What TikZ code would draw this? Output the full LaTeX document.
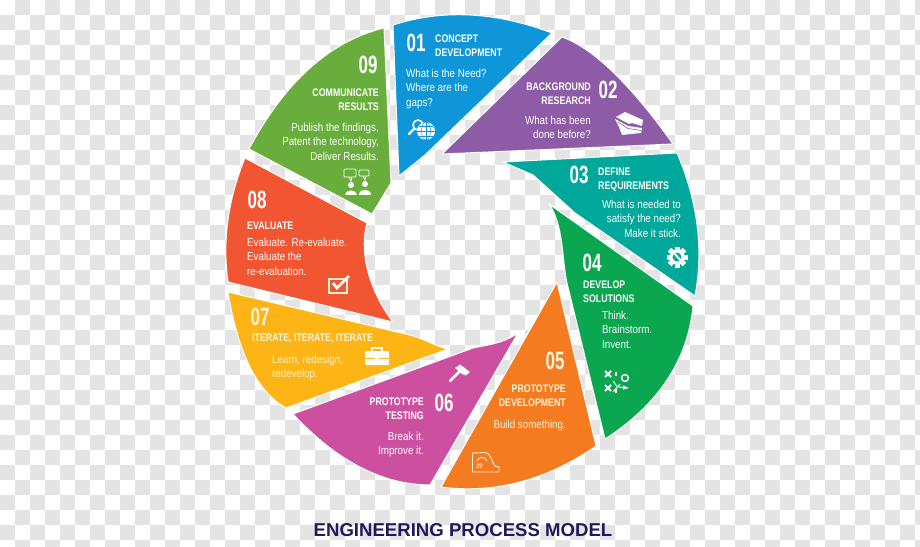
\documentclass[tikz,border=0pt]{standalone}
\usepackage{fontspec}
\setmainfont{Liberation Sans}
\newfontfamily\numfont[FakeStretch=0.68]{Liberation Sans}
\newfontfamily\headfont[FakeStretch=0.8]{Liberation Sans}
\newfontfamily\bodyfont[FakeStretch=0.85]{Liberation Sans}
\definecolor{segblue}{HTML}{0F96D8}
\definecolor{segpurple}{HTML}{8E5BA6}
\definecolor{segteal}{HTML}{00A89C}
\definecolor{seggreen}{HTML}{0BA650}
\definecolor{segorange}{HTML}{F47B20}
\definecolor{segmagenta}{HTML}{CC509F}
\definecolor{segyellow}{HTML}{FDB515}
\definecolor{segred}{HTML}{F15531}
\definecolor{seglime}{HTML}{69AE3C}
\definecolor{cream}{HTML}{FFF3D6}
\definecolor{titlenavy}{HTML}{1F1A5E}
\definecolor{checkgray}{HTML}{E4E4E4}
\tikzset{
    segment/.style={fill=#1,draw=white,line width=1pt,line join=round},
    numtxt/.style={inner sep=0pt,text=white,font=\numfont\bfseries\fontsize{25}{25}\selectfont},
    headtxt/.style={inner sep=0pt,text=white,font=\headfont\bfseries\fontsize{11}{14}\selectfont},
    bodytxt/.style={inner sep=0pt,text=white,font=\bodyfont\fontsize{11.5}{14.3}\selectfont},
}
\begin{document}
\begin{tikzpicture}[x=1pt,y=-1pt]
                \useasboundingbox (0,0) rectangle (920,546);
                \fill[white] (0,0) rectangle (920,546);
                \foreach \j in {0,...,36}{
                \foreach \i in {0,...,61}{
                \pgfmathparse{int(mod(\i+\j,2))}
                \ifnum\pgfmathresult=1
                \fill[checkgray] (15*\i,15*\j) rectangle (15*\i+15,15*\j+15);
                \fi
                }
                }
                \draw[segment=segblue] (393,25) .. controls (442.7,9) and (495.7,11.7) .. (552,33) -- (425,155) -- (399,176) -- cycle;
                \draw[segment=segpurple] (562,37) .. controls (593,48) and (630,83.7) .. (673,144) -- (442,154) -- cycle;
                \draw[segment=segteal] (677,153) .. controls (697.7,201.3) and (703.7,249) .. (695,296) -- (575,213) -- (533,175) -- (503,162) -- cycle;
                \draw[segment=seggreen] (693,306) .. controls (687.7,360.3) and (658.3,404.7) .. (605,439) -- (567,283) .. controls (562,262) and (564,225) .. (549,204) -- cycle;
                \draw[segment=segorange] (596,446) .. controls (546.3,480.3) and (494.7,494) .. (441,487) -- (557,282) -- cycle;
                \draw[segment=segmagenta] (430,485) .. controls (382.3,484.7) and (336.7,461) .. (293,414) -- (473,348) .. controls (487,345) and (502,344) .. (518,333) -- cycle;
                \draw[segment=segyellow] (286,408) .. controls (257.3,392) and (238,353.3) .. (228,292) -- (410,335) .. controls (425,339) and (435,346) .. (448,349) -- cycle;
                \draw[segment=segred] (228,282) .. controls (222.3,240.7) and (228,199.3) .. (245,158) -- (367,223) .. controls (358,255) and (372,295) .. (393,322) -- cycle;
                \draw[segment=seglime] (249,149) .. controls (285.3,81.3) and (330.3,41) .. (384,28) -- (391,183) -- (372,214) -- cycle;
                % numbers
                \node[numtxt] (num1) at (416,43) {01};
                \node[numtxt] (num2) at (608,90) {02};
                \node[numtxt] (num3) at (579,175) {03};
                \node[numtxt] (num4) at (592,263) {04};
                \node[numtxt,text=cream] (num5) at (555,361) {05};
                \node[numtxt] (num6) at (444,403) {06};
                \node[numtxt,text=cream] (num7) at (260,317) {07};
                \node[numtxt] (num8) at (257,200) {08};
                \node[numtxt] (num9) at (368,65) {09};
                % headings
                \node[headtxt,anchor=north west,align=left] (head1) at (435,35) {CONCEPT\\DEVELOPMENT};
                \node[headtxt,anchor=north east,align=right] (head2) at (591,83) {BACKGROUND\\RESEARCH};
                \node[headtxt,anchor=north west,align=left] (head3) at (598,168) {DEFINE\\REQUIREMENTS};
                \node[headtxt,anchor=north west,align=left] (head4) at (583,281) {DEVELOP\\SOLUTIONS};
                \node[headtxt,text=cream,anchor=north east,align=right] (head5) at (566,385) {PROTOTYPE\\DEVELOPMENT};
                \node[headtxt,anchor=north east,align=right] (head6) at (424,398) {PROTOTYPE\\TESTING};
                \node[headtxt,text=cream,anchor=north west,align=left] (head7) at (252,334) {ITERATE, ITERATE, ITERATE};
                \node[headtxt,anchor=north west,align=left] (head8) at (247,222) {EVALUATE};
                \node[headtxt,anchor=north east,align=right] (head9) at (379,89) {COMMUNICATE\\RESULTS};
                % questions
                \node[bodytxt,anchor=north west,align=left] (body1) at (406,69) {What is the Need?\\Where are the\\gaps?};
                \node[bodytxt,anchor=north east,align=right] (body2) at (591,116) {What has been\\done before?};
                \node[bodytxt,anchor=north east,align=right] (body3) at (681,200) {What is needed to\\satisfy the need?\\Make it stick.};
                \node[bodytxt,anchor=north west,align=left] (body4) at (602,311) {Think.\\Brainstorm.\\Invent.};
                \node[bodytxt,text=cream,anchor=north east,align=right] (body5) at (566,420) {Build something.};
                \node[bodytxt,anchor=north east,align=right] (body6) at (424,432) {Break it.\\Improve it.};
                \node[bodytxt,text=cream,anchor=north west,align=left] (body7) at (272,355) {Learn, redesign,\\redevelop.};
                \node[bodytxt,anchor=north west,align=left] (body8) at (247,238) {Evaluate. Re-evaluate.\\Evaluate the\\re-evaluation.};
                \node[bodytxt,anchor=north east,align=right] (body9) at (379,123) {Publish the findings,\\Patent the technology,\\Deliver Results.};
                % magnifier and globe
                \draw[white,line width=1.6pt] (418,125) circle (5);
                \draw[white,line width=2.4pt,line cap=round] (414,129) -- (409,134);
                \fill[white] (426,131) circle (9);
                \draw[segblue,line width=.5pt] (426,122) -- (426,140) (417,131) -- (435,131) (419,126) -- (433,126) (419,136) -- (433,136);
                \draw[segblue,line width=.5pt] (426,131) ellipse (4.5 and 9);
                % books
                \fill[white] (616,117) -- (625,112) -- (643,120) -- (642,126) -- (632,123) -- (629,124) -- cycle;
                \fill[white] (615,119) -- (628,126) -- (642,128) -- (641,133) -- (622,135) -- (619,127) -- cycle;
                \draw[segpurple,line width=.6pt] (618,122) -- (628,128.5) -- (641,130.5);
                % gear and wrench
                \foreach \a in {0,45,...,315}{
                \fill[white,rotate around={\a:(677,257)}] (674.5,246.5) rectangle (679.5,252);
                }
                \fill[white] (677,257) circle (7.5);
                \fill[segteal] (677,257) circle (4.5);
                \draw[white,line width=2pt] (674,253) -- (682,262);
                % plays
                \foreach \p in {(608,374),(608,388)}{
                \draw[white,line width=1.8pt] \p ++(-3,-3) -- ++(6,6) \p ++(-3,3) -- ++(6,-6);
                }
                \draw[white,line width=1.4pt] (625,378) circle (3.4);
                \draw[white,line width=1.2pt] (616,372) -- (616,376) (616,389) -- (616,393);
                \draw[white,line width=1pt,-latex] (613,381) .. controls (617,387) .. (629,388);
                \draw[white,line width=1pt] (613,392) -- (620,384);
                % tape measure
                \draw[cream,line width=.9pt,line join=round] (472.5,472) -- (472.5,453) -- (484,452.5) .. controls (492,453) and (491,462) .. (495,466) -- (499,467) -- (499,472) -- cycle;
                \draw[cream,line width=.8pt] (477,461) .. controls (479,456) and (485,456) .. (487,461);
                \node[inner sep=0pt,text=cream,font=\headfont\bfseries\fontsize{6.5}{7}\selectfont] (tape) at (480,466) {25'};
                % hammer
                \draw[white,line width=2.8pt,line cap=round] (450,381) -- (461,370);
                \fill[white] (455,368) -- (460,364.5) -- (470,372) -- (466,375.5) -- (462,374) -- cycle;
                % briefcase
                \fill[white,rounded corners=1pt] (365,351) rectangle (389,365);
                \draw[white,line width=1.2pt] (372,351) -- (372,348) -- (382,348) -- (382,351);
                \draw[segyellow,line width=.8pt] (365,358) -- (375,358) (379,358) -- (389,358);
                % checkbox
                \draw[cream,line width=1.4pt] (329,279) rectangle (347,293);
                \draw[white,line width=2.8pt] (333,283) -- (337,288) -- (349,276);
                % speakers
                \draw[white,line width=.8pt,rounded corners=1pt] (344,169) rectangle (356,177) (359,170) -- (369,170) -- (369,176) -- (359,176) -- cycle;
                \draw[white,line width=.8pt] (349,177) -- (351,181) -- (352,177) (363,176) -- (365,180) -- (366,176);
                \fill[white] (351,185) circle (3) (365,184) circle (3);
                \fill[white] (345,195) .. controls (345,189) and (357,189) .. (357,195) -- cycle;
                \fill[white] (359,195) .. controls (359,188) and (371,188) .. (371,195) -- cycle;
                % title
                \node[inner sep=0pt,text=titlenavy,font=\bfseries\fontsize{18.6}{20}\selectfont] (title) at (463,530) {ENGINEERING PROCESS MODEL};
            \end{tikzpicture}
\end{document}
